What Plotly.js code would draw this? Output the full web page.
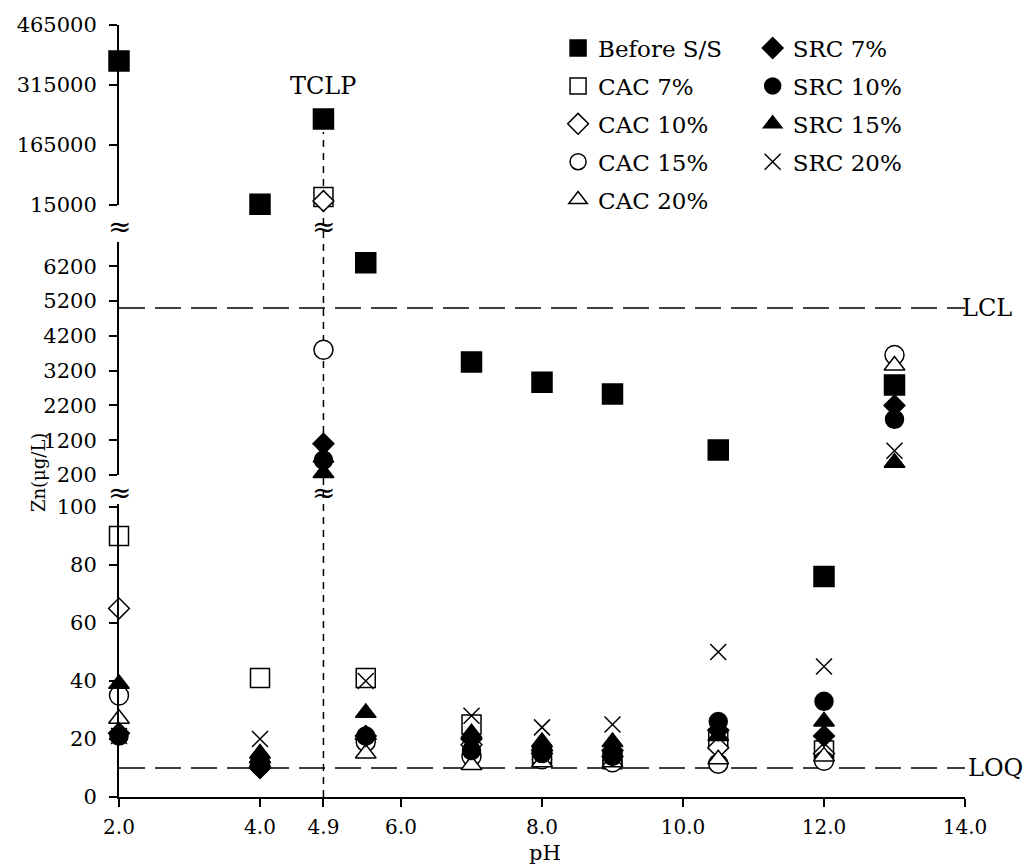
<!DOCTYPE html>
<html>
<head>
<meta charset="utf-8">
<script src="https://cdn.plot.ly/plotly-3.0.1.min.js"></script>
<style>html,body{margin:0;padding:0;background:#fff;}#chart{width:1030px;height:868px;}</style>
</head>
<body>
<div id="chart"></div>
<script>
// ---------- data ----------
const pH = [2.0, 4.0, 4.9, 5.5, 7.0, 8.0, 9.0, 10.5, 12.0, 13.0];
const beforeSS = [375000, 17000, 230000, 6300, 3450, 2870, 2530, 920, 76, 2790];
const cac7  = [90, 41, 35000, 41, 25, 14, 13, 20, 16, null];
const cac10 = [65, 12, 25000, 20, 18, 15, 14, 17, 15, null];
const cac15 = [35, 11, 3800, 19, 14, 13, 12, 11.5, 12.5, 3650];
const cac20 = [27, 12, 700, 15, 11, 12, 12, 13, 14, 3350];
const src7  = [22, 10, 1100, 21, 20, 16, 16, 23, 21, 2200];
const src10 = [21, 13, 630, 21, 16, 15, 14, 26, 33, 1800];
const src15 = [39, 15, 260, 29, 22, 19, 19, 21, 26, 550];
const src20 = [21, 20, 400, 40, 28, 24, 25, 50, 45, 900];

const xTickVals = [2.0, 4.0, 4.9, 6.0, 8.0, 10.0, 12.0, 14.0];
const xTickText = ['2.0', '4.0', '4.9', '6.0', '8.0', '10.0', '12.0', '14.0'];
const yLowTicks = [0, 20, 40, 60, 80, 100];
const yMidTicks = [200, 1200, 2200, 3200, 4200, 5200, 6200];
const yTopTicks = [15000, 165000, 315000, 465000];

const TCLP_pH = 4.9;
const LCL = 5000;
const LOQ = 10;

// ---------- styling ----------
const FONT = 'DejaVu Serif';
const series = [
  {name: 'Before S/S', y: beforeSS, symbol: 'square', color: 'black', size: 20, legend: 'legend'},
  {name: 'CAC 7%', y: cac7, symbol: 'square', color: 'white', size: 19, legend: 'legend'},
  {name: 'CAC 10%', y: cac10, symbol: 'diamond', color: 'white', size: 16, legend: 'legend'},
  {name: 'CAC 15%', y: cac15, symbol: 'circle', color: 'white', size: 19, legend: 'legend'},
  {name: 'CAC 20%', y: cac20, symbol: 'triangle-up', color: 'white', size: 18, legend: 'legend'},
  {name: 'SRC 7%', y: src7, symbol: 'diamond', color: 'black', size: 16, legend: 'legend2'},
  {name: 'SRC 10%', y: src10, symbol: 'circle', color: 'black', size: 18, legend: 'legend2'},
  {name: 'SRC 15%', y: src15, symbol: 'triangle-up', color: 'black', size: 18, legend: 'legend2'},
  {name: 'SRC 20%', y: src20, symbol: 'x-thin-open', color: 'black', size: 16, legend: 'legend2'}
];
// broken-axis segments
const segments = [
  {axis: 'y', lo: -Infinity, hi: 150},
  {axis: 'y2', lo: 150, hi: 10000},
  {axis: 'y3', lo: 10000, hi: Infinity}
];

const traces = [];
series.forEach((s, i) => {
  segments.forEach((seg, j) => {
    traces.push({
      type: 'scatter', mode: 'markers',
      x: pH,
      y: s.y.map(v => (v !== null && v > seg.lo && v <= seg.hi) ? v : null),
      xaxis: 'x', yaxis: seg.axis,
      name: s.name, legendgroup: 'g' + i, legend: s.legend,
      showlegend: j === 0,
      cliponaxis: false,
      marker: {
        symbol: s.symbol, size: s.size, color: s.color,
        line: {color: 'black', width: 1.5}
      },
      hoverinfo: 'x+y+name'
    });
  });
});

// plot area geometry: x 119..965, y 25..797
const H = 772;
const py = p => (797 - p) / H;   // pixel row -> paper y
const px = p => (p - 119) / 846; // pixel column -> paper x

const axisCommon = {
  showline: true, linecolor: 'black', linewidth: 2,
  ticks: 'outside', ticklen: 8, tickwidth: 2, tickcolor: 'black',
  showgrid: false, zeroline: false, fixedrange: true,
  tickfont: {family: FONT, size: 21, color: 'black'},
  ticklabelstandoff: 8
};

const ann = (o) => Object.assign({showarrow: false, xanchor: 'center', yanchor: 'middle'}, o);

const layout = {
  width: 1030, height: 868,
  margin: {l: 119, r: 65, t: 25, b: 71},
  paper_bgcolor: 'white', plot_bgcolor: 'white',
  font: {family: FONT, color: 'black'},
  showlegend: true,
  xaxis: Object.assign({}, axisCommon, {
    range: [2, 14], anchor: 'y', tickmode: 'array',
    tickvals: xTickVals, ticktext: xTickText,
    tickfont: {family: FONT, size: 20, color: 'black'},
    ticklabelstandoff: 3
  }),
  yaxis: Object.assign({}, axisCommon, {
    range: [0, 101], domain: [0, py(504)], anchor: 'x',
    tickmode: 'array', tickvals: yLowTicks, ticktext: yLowTicks.map(String)
  }),
  yaxis2: Object.assign({}, axisCommon, {
    range: [200, 6900], domain: [py(475), py(242)], anchor: 'x',
    tickmode: 'array', tickvals: yMidTicks, ticktext: yMidTicks.map(String)
  }),
  yaxis3: Object.assign({}, axisCommon, {
    range: [15000, 465000], domain: [py(205), 1], anchor: 'x',
    tickmode: 'array', tickvals: yTopTicks, ticktext: yTopTicks.map(String)
  }),
  legend: {
    x: 0.519, y: 0.998, xanchor: 'left', yanchor: 'top',
    bgcolor: 'rgba(0,0,0,0)', borderwidth: 0, tracegroupgap: 5,
    font: {family: FONT, size: 23, color: 'black'}, itemsizing: 'trace'
  },
  legend2: {
    x: 0.749, y: 0.998, xanchor: 'left', yanchor: 'top',
    bgcolor: 'rgba(0,0,0,0)', borderwidth: 0, tracegroupgap: 5,
    font: {family: FONT, size: 23, color: 'black'}, itemsizing: 'trace'
  },
  shapes: [
    {type: 'line', layer: 'below', xref: 'x', yref: 'paper', x0: TCLP_pH, x1: TCLP_pH, y0: 0, y1: py(132),
     line: {color: 'black', width: 1.5, dash: '7px,6px'}},
    {type: 'line', layer: 'below', xref: 'x', yref: 'y2', x0: 2, x1: 14, y0: LCL, y1: LCL,
     line: {color: 'black', width: 1.5, dash: '26px,10px'}},
    {type: 'line', layer: 'below', xref: 'x', yref: 'y', x0: 2, x1: 14, y0: LOQ, y1: LOQ,
     line: {color: 'black', width: 1.5, dash: '26px,10px'}}
  ],
  annotations: [
    ann({text: 'TCLP', xref: 'x', yref: 'paper', x: TCLP_pH, y: py(86), font: {family: FONT, size: 24}}),
    ann({text: 'LCL', xref: 'paper', yref: 'y2', x: px(960), y: LCL, xanchor: 'left', font: {family: FONT, size: 24}}),
    ann({text: 'LOQ', xref: 'paper', yref: 'y', x: px(966), y: LOQ, xanchor: 'left', font: {family: FONT, size: 24}}),
    ann({text: 'pH', xref: 'paper', yref: 'paper', x: px(545), y: py(853), font: {family: FONT, size: 21}}),
    ann({text: 'Zn(μg/L)', xref: 'paper', yref: 'paper', x: px(38), y: py(473), textangle: -90,
     font: {family: FONT, size: 18}}),
    // axis-break marks
    ann({text: '≈', xref: 'x', yref: 'paper', x: 2.0, y: py(226), font: {family: FONT, size: 28}}),
    ann({text: '≈', xref: 'x', yref: 'paper', x: 2.0, y: py(493), font: {family: FONT, size: 28}}),
    ann({text: '≈', xref: 'x', yref: 'paper', x: TCLP_pH, y: py(226), font: {family: FONT, size: 28}}),
    ann({text: '≈', xref: 'x', yref: 'paper', x: TCLP_pH, y: py(493), font: {family: FONT, size: 28}})
  ]
};

Plotly.newPlot('chart', traces, layout, {displayModeBar: false, staticPlot: true});
</script>
</body>
</html>
